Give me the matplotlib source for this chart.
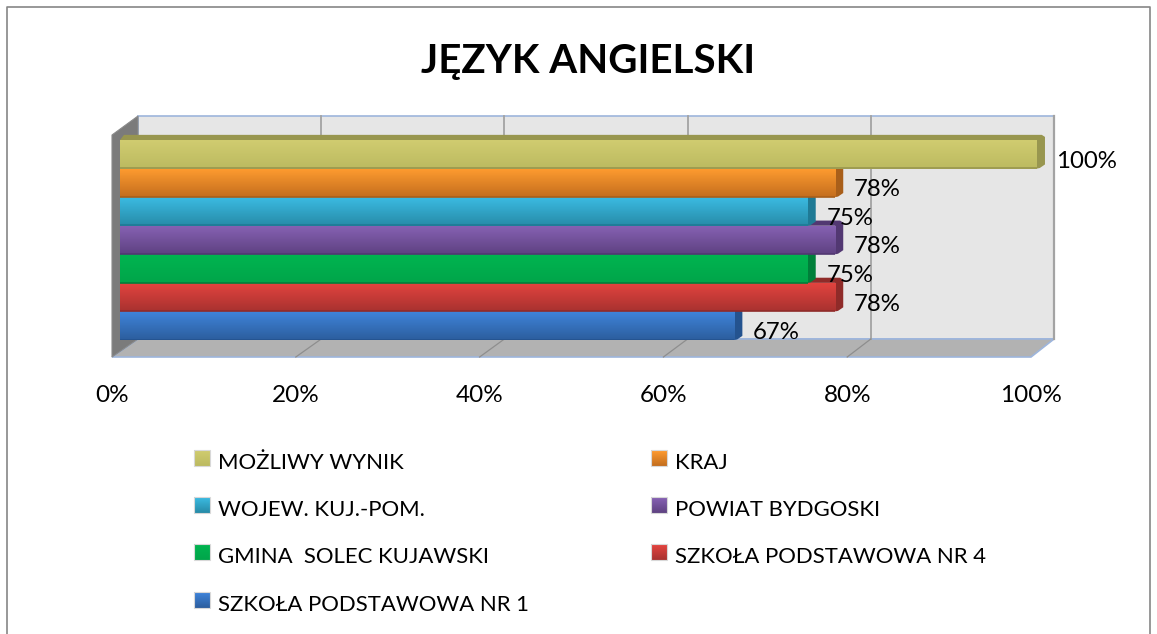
import numpy as np
import matplotlib
matplotlib.use("Agg")
import matplotlib.pyplot as plt
from matplotlib.colors import LinearSegmentedColormap as LSC
from matplotlib.patches import Polygon, Rectangle, FancyBboxPatch

plt.rcParams['font.family'] = ['Lato', 'DejaVu Sans']

TITLE = "JĘZYK ANGIELSKI"
categories = ["SZKOŁA PODSTAWOWA NR 1", "SZKOŁA PODSTAWOWA NR 4", "GMINA  SOLEC KUJAWSKI",
              "POWIAT BYDGOSKI", "WOJEW. KUJ.-POM.", "KRAJ", "MOŻLIWY WYNIK"]
values = [67, 78, 75, 78, 75, 78, 100]
tick_values = [0, 20, 40, 60, 80, 100]
tops = ["#3F84DA", "#E4443F", "#00B550", "#8762B4", "#3BBBE2", "#FF9C30", "#D0CC70"]
bottoms = ["#2C5E9E", "#A93230", "#00A54A", "#5F4282", "#278BA8", "#C46E1E", "#BCBA60"]
sides = ["#24538F", "#8F2B29", "#007F3A", "#523872", "#1F7A95", "#A95F1A", "#98964F"]

W, H = 1157, 634
fig = plt.figure(figsize=(W / 100, H / 100), dpi=100, facecolor="white")

def pos(x0, x1, ytop, ybot):
    return [x0 / W, 1 - ybot / H, (x1 - x0) / W, (ybot - ytop) / H]

# pixel-space backdrop: border, 3D walls, title
bg = fig.add_axes([0, 0, 1, 1], zorder=0)
bg.set_xlim(0, W); bg.set_ylim(H, 0); bg.axis("off")
bg.plot([7, 7, 1150, 1150], [H, 7, 7, H], color="#868686", lw=1.2)

EDGE = "#9DB5DC"
bg.add_patch(Rectangle((138, 116), 916, 223, fc="#E6E6E6", ec=EDGE, lw=1.2))
bg.add_patch(Polygon([(112, 357), (1031, 357), (1054, 339), (138, 339)], fc="#B2B2B2", ec=EDGE, lw=1.2))
bg.add_patch(Polygon([(112, 135), (138, 116), (138, 339), (112, 357)], fc="#7B7B7B", ec="#8A8A8A", lw=0.8))
for k in range(1, 6):
    xb = 138 + k * 183.2
    xf = 112 + k * 183.8
    bg.plot([xb, xb], [116, 339], color="#A3A3A3", lw=1.3)
    if k < 5:
        bg.plot([xb, xf], [339, 357], color="#8E8E8E", lw=0.9)
bg.plot([1054, 1054], [116, 339], color="#A3A3A3", lw=1.6)
bg.text(588, 61, TITLE, ha="center", va="center", fontsize=29, fontweight="bold", color="black")

# percentage axis on the front plane
ax_t = fig.add_axes(pos(112, 1031, 340, 357), zorder=1)
ax_t.patch.set_alpha(0)
ax_t.set_xlim(0, 100); ax_t.set_yticks([])
ax_t.set_xticks(tick_values, [f"{t}%" for t in tick_values], fontsize=17.5)
ax_t.tick_params(axis="x", length=0, pad=20.5)
for s in ax_t.spines.values():
    s.set_visible(False)

# bars: each upper bar hides the top face of the one below it
ax = fig.add_axes(pos(120, 1037, 140, 340), zorder=2)
ax.patch.set_alpha(0)
ax.axis("off")
n = len(values)
DX, DY = 0.87, 0.18
for i in range(n):
    v = values[i]
    z = 10 + i * 2
    top, low = i + .5, i - .5
    ax.add_patch(Polygon([(0, top), (DX * .5, top + DY), (v + DX * .6, top + DY), (v + DX, top + DY * .6),
                          (v + DX, low + DY * .8), (v + DX * .35, low + .02), (v, low), (v, top)],
                         fc=sides[i], ec="none", zorder=z, clip_on=False))
    bar = ax.barh(i, v, height=1, color=tops[i], zorder=z + 1)[0]
    cmap = LSC.from_list("g", [tops[i], bottoms[i]])
    im = ax.imshow(np.linspace(0, 1, 64)[:, None], extent=(0, v, low, top), origin="upper",
                   cmap=cmap, aspect="auto", zorder=z + 1, interpolation="bilinear")
    im.set_clip_path(bar)
    ax.plot([0, v], [low + .01, low + .01], color=sides[i], lw=1.2, zorder=z + 1, solid_capstyle="butt")
for i, v in enumerate(values):
    ax.annotate(f"{v}%", (v, i), xytext=(13.5, -5), textcoords="offset points",
                ha="left", va="center", fontsize=17.3, color="black", zorder=50, annotation_clip=False)
ax.set_xlim(0, 100); ax.set_ylim(-.5, n - .5)

# legend
lg = fig.add_axes([0, 0, 1, 1], zorder=3)
lg.set_xlim(0, W); lg.set_ylim(H, 0); lg.axis("off"); lg.patch.set_alpha(0)
order = list(range(n - 1, -1, -1))
cols = [194, 651]
rows = [458, 505, 552, 600]
for idx, c in enumerate(order):
    x = cols[idx % 2]; y = rows[idx // 2]
    cmap = LSC.from_list("g", [tops[c], bottoms[c]])
    lg.imshow(np.linspace(0, 1, 16)[:, None], extent=(x, x + 16, y + 8, y - 8), cmap=cmap, aspect="auto", zorder=2)
    lg.add_patch(Rectangle((x, y - 8), 16, 16, fc="none", ec="#D8D8D8", lw=0.8, zorder=3))
    lg.text(x + 24, y + 5, categories[c], ha="left", va="center", fontsize=15.9, color="black")
lg.set_xlim(0, W); lg.set_ylim(H, 0)

fig.savefig("out.png", dpi=100)
